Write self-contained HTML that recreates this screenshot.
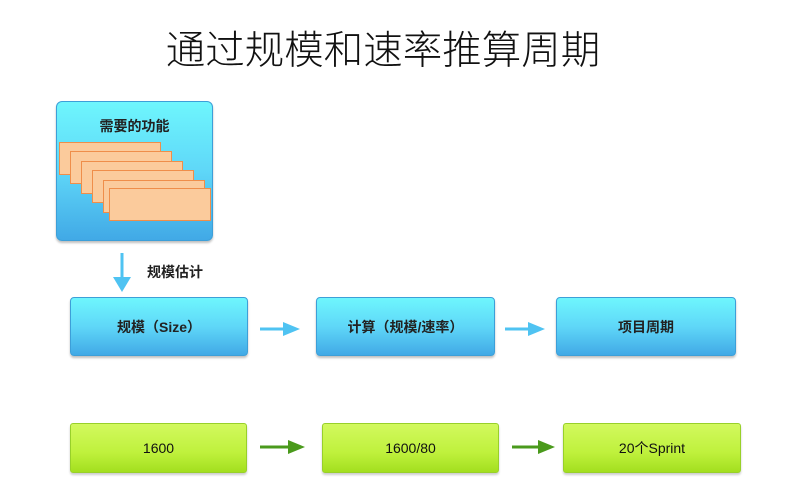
<!DOCTYPE html>
<html><head><meta charset="utf-8"><style>
body{margin:0;width:800px;height:500px;background:#fff;position:relative;overflow:hidden;font-family:"Liberation Sans","Noto Sans CJK SC",sans-serif}
.a{position:absolute}
.blue{background:linear-gradient(#6ef6fd,#5fd7f8 50%,#41a9e6);border:1px solid #3d9fd8;border-radius:4px;box-shadow:0 2px 2px rgba(0,0,0,.25);display:flex;align-items:center;justify-content:center;font-size:14px;font-weight:bold;color:#222}
.green{background:linear-gradient(#d2f95e,#bff13c 60%,#a3df1f);border:1px solid #98d02a;border-radius:3px;box-shadow:0 2px 2px rgba(0,0,0,.2);display:flex;align-items:center;justify-content:center;font-size:14px;color:#111}
.card{position:absolute;width:100px;height:31px;background:#fbcb9c;border:1px solid #ef8e4a}
</style></head><body>
<div class="a" style="left:0;width:766px;top:19px;text-align:center;font-size:39.5px;font-weight:300;color:#111">通过规模和速率推算周期</div>
<div class="a blue" style="left:56px;top:101px;width:155px;height:138px;border-radius:6px;align-items:flex-start;padding-top:0"><div style="margin-top:14px">需要的功能</div></div>
<div class="card" style="left:59px;top:142px"></div>
<div class="card" style="left:70px;top:151px"></div>
<div class="card" style="left:81px;top:161px"></div>
<div class="card" style="left:92px;top:170px"></div>
<div class="card" style="left:103px;top:180px"></div>
<div class="card" style="left:109px;top:188px"></div>
<svg class="a" style="left:0;top:0" width="800" height="500">
<line x1="122" y1="253" x2="122" y2="278" stroke="#4fc3f2" stroke-width="3"/><polygon points="113,277 131,277 122,292" fill="#4fc3f2"/>
<line x1="260" y1="329" x2="285" y2="329" stroke="#4fc3f2" stroke-width="3"/><polygon points="283,322 300,329 283,336" fill="#4fc3f2"/>
<line x1="505" y1="329" x2="530" y2="329" stroke="#4fc3f2" stroke-width="3"/><polygon points="528,322 545,329 528,336" fill="#4fc3f2"/>
<line x1="260" y1="447" x2="290" y2="447" stroke="#4a9a1c" stroke-width="3"/><polygon points="288,440 305,447 288,454" fill="#4a9a1c"/>
<line x1="512" y1="447" x2="540" y2="447" stroke="#4a9a1c" stroke-width="3"/><polygon points="538,440 555,447 538,454" fill="#4a9a1c"/>
</svg>
<div class="a" style="left:147px;top:262px;font-size:14px;font-weight:bold;color:#222">规模估计</div>
<div class="a blue" style="left:70px;top:297px;width:176px;height:57px">规模（Size）</div>
<div class="a blue" style="left:316px;top:297px;width:177px;height:57px">计算（规模/速率）</div>
<div class="a blue" style="left:556px;top:297px;width:178px;height:57px">项目周期</div>
<div class="a green" style="left:70px;top:423px;width:175px;height:48px">1600</div>
<div class="a green" style="left:322px;top:423px;width:175px;height:48px">1600/80</div>
<div class="a green" style="left:563px;top:423px;width:176px;height:48px">20个Sprint</div>
</body></html>
